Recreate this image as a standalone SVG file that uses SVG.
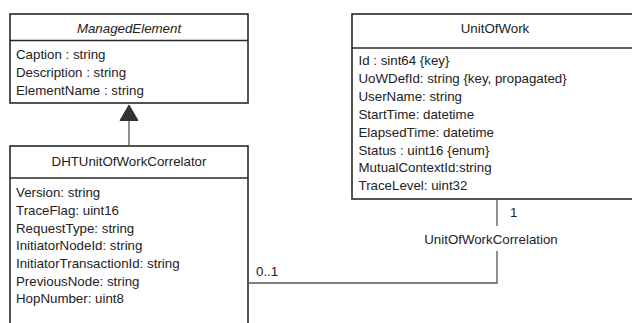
<svg xmlns="http://www.w3.org/2000/svg" width="632" height="323" viewBox="0 0 632 323">
<style>
.box{fill:#fff;stroke:#2a2a2a;stroke-width:1.6}
.sep{stroke:#2a2a2a;stroke-width:1.6}
.t{font-family:"Liberation Sans",Arial,sans-serif;font-size:13.3px;fill:#222}
.c{text-anchor:middle}
.i{font-style:italic}
.conn{fill:none;stroke:#555;stroke-width:1.3}
</style>
<rect width="632" height="323" fill="#fff"/>
<g id="ManagedElement">
<rect class="box" x="10" y="14" width="238" height="89"/>
<line class="sep" x1="10" y1="40.5" x2="248" y2="40.5"/>
<text class="t c i" x="129" y="33">ManagedElement</text>
<text class="t" x="16" y="59">Caption : string</text>
<text class="t" x="16" y="77">Description : string</text>
<text class="t" x="16" y="95">ElementName : string</text>
</g>
<g id="DHTUnitOfWorkCorrelator">
<rect class="box" x="10" y="146" width="238" height="200"/>
<line class="sep" x1="10" y1="178" x2="248" y2="178"/>
<text class="t c" x="129" y="166">DHTUnitOfWorkCorrelator</text>
<text class="t" x="16" y="197">Version: string</text>
<text class="t" x="16" y="215">TraceFlag: uint16</text>
<text class="t" x="16" y="232.5">RequestType: string</text>
<text class="t" x="16" y="250">InitiatorNodeId: string</text>
<text class="t" x="16" y="268">InitiatorTransactionId: string</text>
<text class="t" x="16" y="286">PreviousNode: string</text>
<text class="t" x="16" y="303">HopNumber: uint8</text>
</g>
<g id="UnitOfWork">
<rect class="box" x="352" y="14" width="290" height="185"/>
<line class="sep" x1="352" y1="48" x2="642" y2="48"/>
<text class="t c" x="495" y="33">UnitOfWork</text>
<text class="t" x="358.5" y="64.5">Id : sint64 {key}</text>
<text class="t" x="358.5" y="82.5">UoWDefId: string {key, propagated}</text>
<text class="t" x="358.5" y="100.5">UserName: string</text>
<text class="t" x="358.5" y="118.5">StartTime: datetime</text>
<text class="t" x="358.5" y="136.5">ElapsedTime: datetime</text>
<text class="t" x="358.5" y="154.5">Status : uint16 {enum}</text>
<text class="t" x="358.5" y="172">MutualContextId:string</text>
<text class="t" x="358.5" y="190">TraceLevel: uint32</text>
</g>
<g id="connectors">
<line class="conn" x1="129" y1="146" x2="129" y2="119"/>
<polygon points="129,105 120,120.5 138,120.5" fill="#333" stroke="#333" stroke-width="1"/>
<polyline class="conn" points="497,199 497,226"/>
<polyline class="conn" points="497,251 497,283 248,283"/>
<text class="t" x="510" y="217">1</text>
<text class="t c" x="491" y="244">UnitOfWorkCorrelation</text>
<text class="t" x="256" y="276">0..1</text>
</g>
</svg>
